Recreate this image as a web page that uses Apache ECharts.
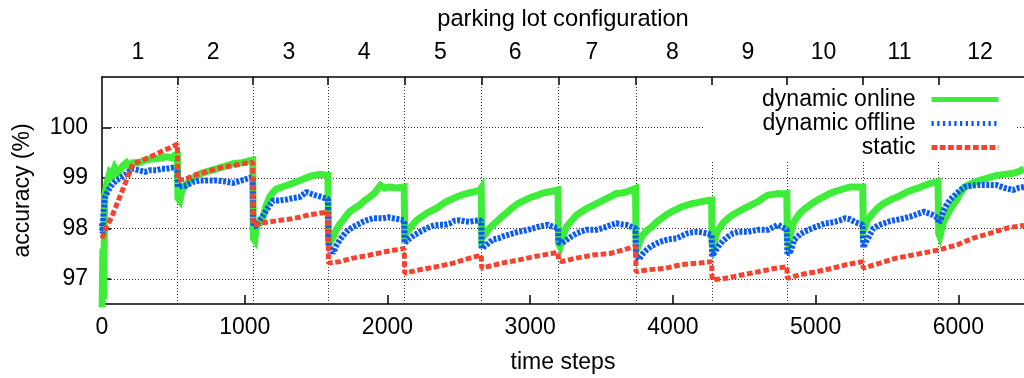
<!DOCTYPE html>
<html>
<head>
<meta charset="utf-8">
<script src="https://cdn.jsdelivr.net/npm/echarts@6/dist/echarts.min.js"></script>
<style>
html,body{margin:0;padding:0;background:#fff;}
#chart{width:1024px;height:378px;}
</style>
</head>
<body>
<div id="chart"></div>
<script>
// ---- data ----
const configLabels = ['1','2','3','4','5','6','7','8','9','10','11','12'];
const configCenters = [252, 778, 1310, 1836, 2371, 2895, 3432, 3997, 4525, 5055, 5588, 6152];
const boundaries = [530, 1058, 1585, 2119, 2659, 3197, 3740, 4273, 4800, 5332, 5860];
const xTicks = [0, 1000, 2000, 3000, 4000, 5000, 6000];
const yTicks = [97, 98, 99, 100];

const dynamicOnline = [
 [0,96.2],[6,97.6],[12,96.6],[19,98.65],[35,98.9],[54,99.1],[70,99.05],[89,99.2],[110,99.1],[124,99.15],[150,99.25],[171,99.3],[195,99.2],[217,99.3],[260,99.3],[300,99.35],[334,99.37],[380,99.38],[420,99.4],[451,99.42],[490,99.4],[509,99.45],[528,99.45],
 [532,98.6],[545,98.55],[560,98.75],[591,98.88],[630,98.98],[685,99.08],[740,99.13],[801,99.18],[860,99.23],[918,99.28],[980,99.3],[1035,99.34],[1056,99.35],
 [1060,97.8],[1070,97.76],[1082,98.03],[1105,98.1],[1128,98.22],[1150,98.45],[1175,98.62],[1200,98.72],[1222,98.78],[1260,98.82],[1292,98.85],[1340,98.9],[1386,98.95],[1430,99.0],[1479,99.05],[1530,99.07],[1583,99.05],
 [1587,97.8],[1592,97.7],[1615,97.8],[1642,97.97],[1665,98.08],[1689,98.16],[1712,98.25],[1736,98.33],[1770,98.4],[1806,98.46],[1840,98.55],[1876,98.62],[1910,98.7],[1950,98.85],[1980,98.8],[2016,98.82],[2060,98.8],[2117,98.82],
 [2121,97.87],[2135,97.92],[2157,98.0],[2180,98.08],[2204,98.16],[2240,98.23],[2274,98.3],[2310,98.35],[2344,98.4],[2380,98.47],[2414,98.53],[2450,98.58],[2484,98.62],[2520,98.66],[2554,98.69],[2600,98.72],[2647,98.76],[2657,98.8],
 [2661,97.8],[2670,97.77],[2690,97.9],[2705,97.97],[2740,98.07],[2775,98.16],[2810,98.25],[2845,98.33],[2880,98.42],[2915,98.49],[2950,98.54],[2985,98.59],[3020,98.63],[3055,98.66],[3090,98.7],[3125,98.72],[3160,98.74],[3195,98.76],
 [3199,97.7],[3210,97.64],[3230,97.85],[3254,98.03],[3290,98.15],[3324,98.26],[3360,98.33],[3394,98.39],[3430,98.44],[3464,98.49],[3500,98.54],[3534,98.59],[3570,98.64],[3604,98.69],[3640,98.7],[3674,98.72],[3710,98.76],[3738,98.79],
 [3742,97.7],[3755,97.64],[3782,97.84],[3815,97.95],[3852,98.03],[3885,98.12],[3922,98.2],[3955,98.27],[3992,98.33],[4030,98.38],[4062,98.43],[4100,98.46],[4132,98.49],[4170,98.51],[4202,98.53],[4240,98.55],[4271,98.56],
 [4275,97.7],[4285,97.64],[4300,97.85],[4317,97.97],[4350,98.1],[4387,98.2],[4420,98.27],[4457,98.33],[4490,98.38],[4527,98.43],[4560,98.48],[4597,98.53],[4630,98.6],[4667,98.66],[4700,98.67],[4737,98.69],[4770,98.68],[4798,98.69],
 [4802,97.8],[4812,97.7],[4825,97.9],[4843,98.1],[4865,98.2],[4890,98.3],[4925,98.39],[4960,98.46],[4995,98.53],[5030,98.59],[5065,98.64],[5100,98.69],[5135,98.73],[5170,98.76],[5205,98.79],[5240,98.82],[5275,98.82],[5330,98.82],
 [5334,97.95],[5345,98.0],[5361,98.16],[5395,98.28],[5431,98.39],[5465,98.47],[5501,98.53],[5535,98.58],[5571,98.62],[5605,98.67],[5641,98.72],[5675,98.76],[5711,98.79],[5760,98.85],[5805,98.89],[5858,98.92],
 [5862,97.9],[5870,97.84],[5893,98.1],[5915,98.23],[5940,98.36],[5965,98.47],[5987,98.56],[6015,98.7],[6045,98.82],[6100,98.9],[6150,98.95],[6210,99.0],[6267,99.05],[6325,99.07],[6384,99.09],[6420,99.12],[6460,99.18]
];

const dynamicOffline = [
 [0,98.1],[5,97.9],[10,98.3],[19,98.6],[35,98.7],[54,98.8],[75,98.88],[100,98.95],[130,99.0],[171,99.08],[200,99.15],[217,99.18],[260,99.15],[300,99.12],[334,99.15],[380,99.15],[420,99.18],[451,99.18],[490,99.2],[528,99.2],
 [532,98.82],[560,98.84],[591,98.85],[640,98.92],[685,98.95],[740,98.95],[801,98.95],[860,98.93],[918,98.9],[980,98.95],[1035,99.0],[1056,99.02],
 [1060,98.03],[1080,98.05],[1105,98.16],[1128,98.25],[1152,98.36],[1175,98.46],[1199,98.55],[1240,98.55],[1292,98.57],[1340,98.6],[1386,98.62],[1433,98.72],[1470,98.68],[1503,98.65],[1540,98.62],[1583,98.58],
 [1587,97.7],[1600,97.6],[1619,97.51],[1640,97.65],[1666,97.77],[1690,97.86],[1712,97.93],[1735,97.98],[1759,98.03],[1795,98.08],[1829,98.13],[1865,98.17],[1899,98.2],[1935,98.2],[1969,98.2],[2005,98.22],[2039,98.2],[2080,98.18],[2117,98.16],
 [2121,97.7],[2135,97.75],[2157,97.8],[2190,97.87],[2227,97.93],[2260,97.98],[2297,98.03],[2330,98.06],[2365,98.07],[2400,98.07],[2437,98.1],[2470,98.15],[2507,98.16],[2540,98.14],[2577,98.13],[2610,98.15],[2657,98.16],
 [2661,97.6],[2670,97.57],[2705,97.7],[2740,97.78],[2775,97.8],[2810,97.84],[2845,97.87],[2880,97.9],[2915,97.93],[2950,97.95],[2985,97.97],[3020,98.0],[3055,98.03],[3090,98.05],[3125,98.07],[3160,98.03],[3195,98.0],
 [3199,97.72],[3220,97.7],[3254,97.77],[3290,97.84],[3324,97.9],[3360,97.94],[3394,97.97],[3430,97.97],[3464,97.97],[3500,98.0],[3534,98.03],[3570,98.07],[3604,98.1],[3640,98.08],[3674,98.07],[3710,98.03],[3738,98.0],
 [3742,97.42],[3760,97.38],[3790,97.5],[3815,97.57],[3850,97.65],[3885,97.7],[3920,97.74],[3955,97.77],[3990,97.79],[4025,97.8],[4062,97.85],[4100,97.9],[4132,97.92],[4170,97.93],[4202,97.92],[4240,97.9],[4271,97.87],
 [4275,97.45],[4285,97.44],[4317,97.64],[4350,97.75],[4387,97.84],[4420,97.9],[4457,97.93],[4490,97.93],[4527,97.93],[4560,97.95],[4597,97.97],[4630,97.97],[4667,97.97],[4700,98.02],[4737,98.07],[4770,98.02],[4798,97.97],
 [4802,97.5],[4812,97.47],[4825,97.55],[4850,97.77],[4890,97.88],[4920,97.93],[4960,97.98],[5000,98.03],[5030,98.06],[5065,98.1],[5100,98.11],[5135,98.13],[5170,98.16],[5205,98.2],[5240,98.18],[5280,98.12],[5330,98.07],
 [5334,97.62],[5345,97.6],[5360,97.77],[5385,97.9],[5405,98.0],[5440,98.06],[5480,98.1],[5520,98.14],[5550,98.16],[5590,98.18],[5620,98.2],[5660,98.23],[5690,98.26],[5730,98.3],[5760,98.33],[5810,98.28],[5858,98.2],
 [5862,98.1],[5880,98.2],[5893,98.33],[5915,98.45],[5940,98.56],[5965,98.63],[5987,98.69],[6015,98.76],[6045,98.82],[6100,98.85],[6150,98.86],[6210,98.86],[6267,98.86],[6325,98.8],[6384,98.76],[6420,98.8],[6460,98.82]
];

const staticAcc = [
 [0,97.8],[15,97.9],[31,98.03],[55,98.15],[77,98.29],[100,98.45],[124,98.62],[150,98.8],[171,98.95],[195,99.12],[217,99.28],[264,99.33],[300,99.37],[334,99.41],[380,99.47],[428,99.54],[480,99.6],[528,99.67],
 [532,98.95],[591,98.98],[640,99.05],[685,99.08],[740,99.13],[801,99.18],[860,99.22],[918,99.24],[980,99.28],[1035,99.3],[1056,99.31],
 [1060,98.06],[1105,98.1],[1175,98.13],[1250,98.16],[1330,98.19],[1386,98.22],[1450,98.27],[1503,98.29],[1583,98.32],
 [1587,97.31],[1666,97.34],[1759,97.41],[1876,97.47],[1992,97.54],[2117,97.6],
 [2121,97.11],[2227,97.18],[2344,97.24],[2460,97.31],[2577,97.41],[2657,97.47],
 [2661,97.21],[2800,97.31],[2915,97.37],[3030,97.44],[3150,97.5],[3195,97.52],
 [3199,97.37],[3220,97.34],[3324,97.41],[3440,97.47],[3557,97.5],[3650,97.57],[3738,97.64],
 [3742,97.14],[3830,97.18],[3950,97.21],[4060,97.28],[4180,97.31],[4271,97.34],
 [4275,96.98],[4370,97.01],[4490,97.08],[4600,97.14],[4720,97.21],[4798,97.24],
 [4802,97.01],[4890,97.08],[5005,97.14],[5120,97.21],[5215,97.28],[5330,97.34],
 [5334,97.21],[5450,97.31],[5565,97.41],[5680,97.47],[5860,97.57],
 [5990,97.67],[6100,97.8],[6220,97.9],[6335,98.0],[6460,98.06]
];

// ---- styling ----
const FONT = '"Liberation Sans", Arial, Helvetica, sans-serif';
const FS = 23;
const GREEN = '#3ded38', BLUE = '#0d5cf2', RED = '#f5432f';
const GRID_DOT = {color: '#333', width: 1, type: [1, 2]};
const centerLabel = {};
configCenters.forEach((c, i) => { centerLabel[c] = configLabels[i]; });

function legendRow(name, top, lineStyle) {
  return {
    data: [{name: name}], right: 23, top: top, orient: 'horizontal', align: 'right',
    itemWidth: 67, itemHeight: 10, itemGap: 0, padding: 0, selectedMode: false,
    itemStyle: {opacity: 0, borderWidth: 0, color: 'rgba(0,0,0,0)'},
    textStyle: {fontSize: FS, color: '#000', fontFamily: FONT, padding: [0, 11, 0, 0]},
    lineStyle: lineStyle
  };
}

const chart = echarts.init(document.getElementById('chart'), null, {renderer: 'canvas'});
chart.setOption({
  animation: false,
  backgroundColor: '#fff',
  textStyle: {fontFamily: FONT},
  grid: {left: 102, top: 77, right: 0, bottom: 74, containLabel: false, outerBoundsMode: 'none'},
  xAxis: [{
    type: 'value', position: 'bottom', min: 0, max: 6460,
    name: 'time steps', nameLocation: 'middle', nameGap: 47,
    nameTextStyle: {fontSize: FS, color: '#000', fontFamily: FONT},
    axisLine: {show: true, lineStyle: {color: '#000', width: 1.5}},
    axisTick: {show: true, inside: true, length: 9, customValues: xTicks, lineStyle: {color: '#000', width: 1.5}},
    axisLabel: {fontSize: FS, color: '#000', fontFamily: FONT, margin: 12, customValues: xTicks,
      formatter: function (v) { return String(v); }},
    splitLine: {show: false}
  }, {
    type: 'value', position: 'top', min: 0, max: 6460,
    name: 'parking lot configuration', nameLocation: 'middle', nameGap: 46,
    nameTextStyle: {fontSize: 23.7, color: '#000', fontFamily: FONT},
    axisLine: {show: true, lineStyle: {color: '#000', width: 1.5}},
    axisTick: {show: true, inside: true, length: 8, customValues: boundaries, lineStyle: {color: '#000', width: 1.5}},
    axisLabel: {fontSize: FS, color: '#000', fontFamily: FONT, margin: 13, customValues: configCenters,
      formatter: function (v) { return centerLabel[v] || ''; }},
    splitLine: {show: false}
  }],
  yAxis: {
    type: 'value', min: 96.5, max: 101,
    name: 'accuracy (%)', nameLocation: 'middle', nameGap: 68, nameRotate: 90,
    nameTextStyle: {fontSize: FS, color: '#000', fontFamily: FONT},
    axisLine: {show: true, lineStyle: {color: '#000', width: 1.5}},
    axisTick: {show: true, inside: true, length: 9, customValues: yTicks, lineStyle: {color: '#000', width: 1.5}},
    axisLabel: {fontSize: FS, color: '#000', fontFamily: FONT, margin: 14, customValues: yTicks,
      formatter: function (v) { return String(v); }},
    splitLine: {show: false}
  },
  legend: [
    legendRow('dynamic online', 88, {width: 5, type: 'solid', color: GREEN}),
    legendRow('dynamic offline', 112, {width: 5, type: [2.3, 3.4], color: BLUE}),
    legendRow('static', 136, {width: 5, type: [5.7, 2.6], color: RED})
  ],
  graphic: [{
    type: 'rect', z: 3, silent: true,
    shape: {x: 703, y: 86, width: 312, height: 74},
    style: {fill: '#fff'}
  }],
  series: [{
    name: 'dynamic online', type: 'line', data: dynamicOnline,
    xAxisIndex: 0, yAxisIndex: 0, symbol: 'none', showSymbol: false,
    lineStyle: {color: GREEN, width: 7, join: 'miter'}, itemStyle: {color: GREEN},
    emphasis: {disabled: true},
    markLine: {
      silent: true, symbol: ['none', 'none'], z: 1, animation: false,
      label: {show: false}, lineStyle: GRID_DOT,
      data: boundaries.map(b => ({xAxis: b})).concat(yTicks.map(v => ({yAxis: v})))
    }
  }, {
    name: 'dynamic offline', type: 'line', data: dynamicOffline,
    xAxisIndex: 0, yAxisIndex: 0, symbol: 'none', showSymbol: false,
    lineStyle: {color: BLUE, width: 6, type: [3, 1.5]}, itemStyle: {color: BLUE},
    emphasis: {disabled: true}
  }, {
    name: 'static', type: 'line', data: staticAcc,
    xAxisIndex: 0, yAxisIndex: 0, symbol: 'none', showSymbol: false,
    lineStyle: {color: RED, width: 5, type: [5.7, 2.6]}, itemStyle: {color: RED},
    emphasis: {disabled: true}
  }]
});
</script>
</body>
</html>
